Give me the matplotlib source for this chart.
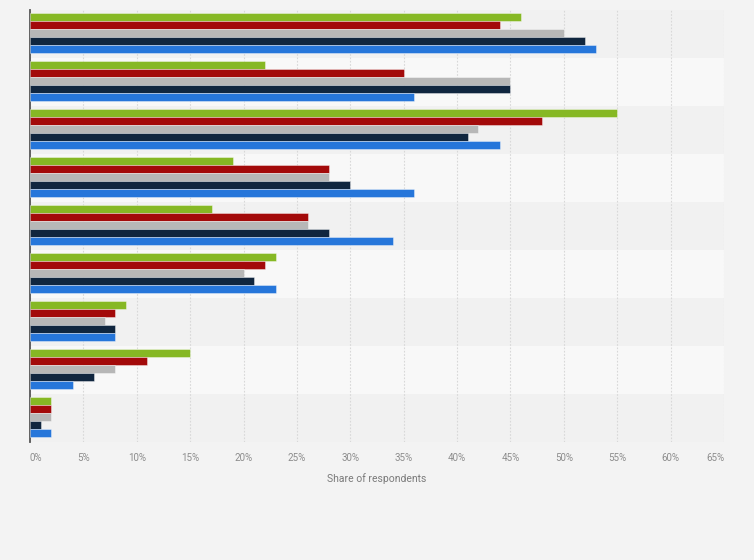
import numpy as np
import matplotlib.pyplot as plt

# values per category (top to bottom), one list per series
green = [46, 22, 55, 19, 17, 23, 9, 15, 2]
red = [44, 35, 48, 28, 26, 22, 8, 11, 2]
gray = [50, 45, 42, 28, 26, 20, 7, 8, 2]
navy = [52, 45, 41, 30, 28, 21, 8, 6, 1]
blue = [53, 36, 44, 36, 34, 23, 8, 4, 2]

series = [green, red, gray, navy, blue]
colors = ['#86b824', '#a30a0a', '#b7b7b7', '#10263f', '#2676da']
x_ticks = list(range(0, 70, 5))

plt.rcParams['font.family'] = ['Roboto', 'DejaVu Sans']

fig = plt.figure(figsize=(7.54, 5.6), dpi=100)
fig.patch.set_facecolor('#f3f3f3')
ax = fig.add_axes([30 / 754, 1 - 442 / 560, 694 / 754, 432 / 560])
ax.set_facecolor('#f3f3f3')

n = len(green)
# alternating background bands
for i in range(n):
    ax.axhspan(i - 0.5, i + 0.5, color='#f1f1f1' if i % 2 == 0 else '#f8f8f8',
               zorder=0, lw=0)

h = 0.168
for k, (vals, c) in enumerate(zip(series, colors)):
    y = np.arange(n) - 0.5 + 0.065 + h * (k + 0.5)
    ax.barh(y, vals, height=h, color=c, edgecolor=(1, 1, 1, 0.45),
            linewidth=0.6, zorder=3)

ax.set_ylim(n - 0.5, -0.5)
ax.set_xlim(0, 65)
ax.set_yticks([])
ax.set_xticks(x_ticks)
ax.set_xticklabels([f'{t}%' for t in x_ticks], fontsize=7, color='#8c8c8c')
labels = ax.get_xticklabels()
labels[0].set_ha('left')
labels[-1].set_ha('right')
ax.tick_params(axis='x', length=0, pad=8)
ax.xaxis.grid(True, linestyle=(0, (1.5, 1.5)), color='#d8d8d8', linewidth=0.8, zorder=1)
ax.set_axisbelow(True)
for s in ['top', 'right', 'bottom']:
    ax.spines[s].set_visible(False)
ax.spines['left'].set_color('#555555')
ax.spines['left'].set_linewidth(1.3)
ax.set_xlabel('Share of respondents', fontsize=7.5, color='#7a7a7a', labelpad=7)

fig.savefig('out.png', dpi=100, facecolor=fig.get_facecolor())
